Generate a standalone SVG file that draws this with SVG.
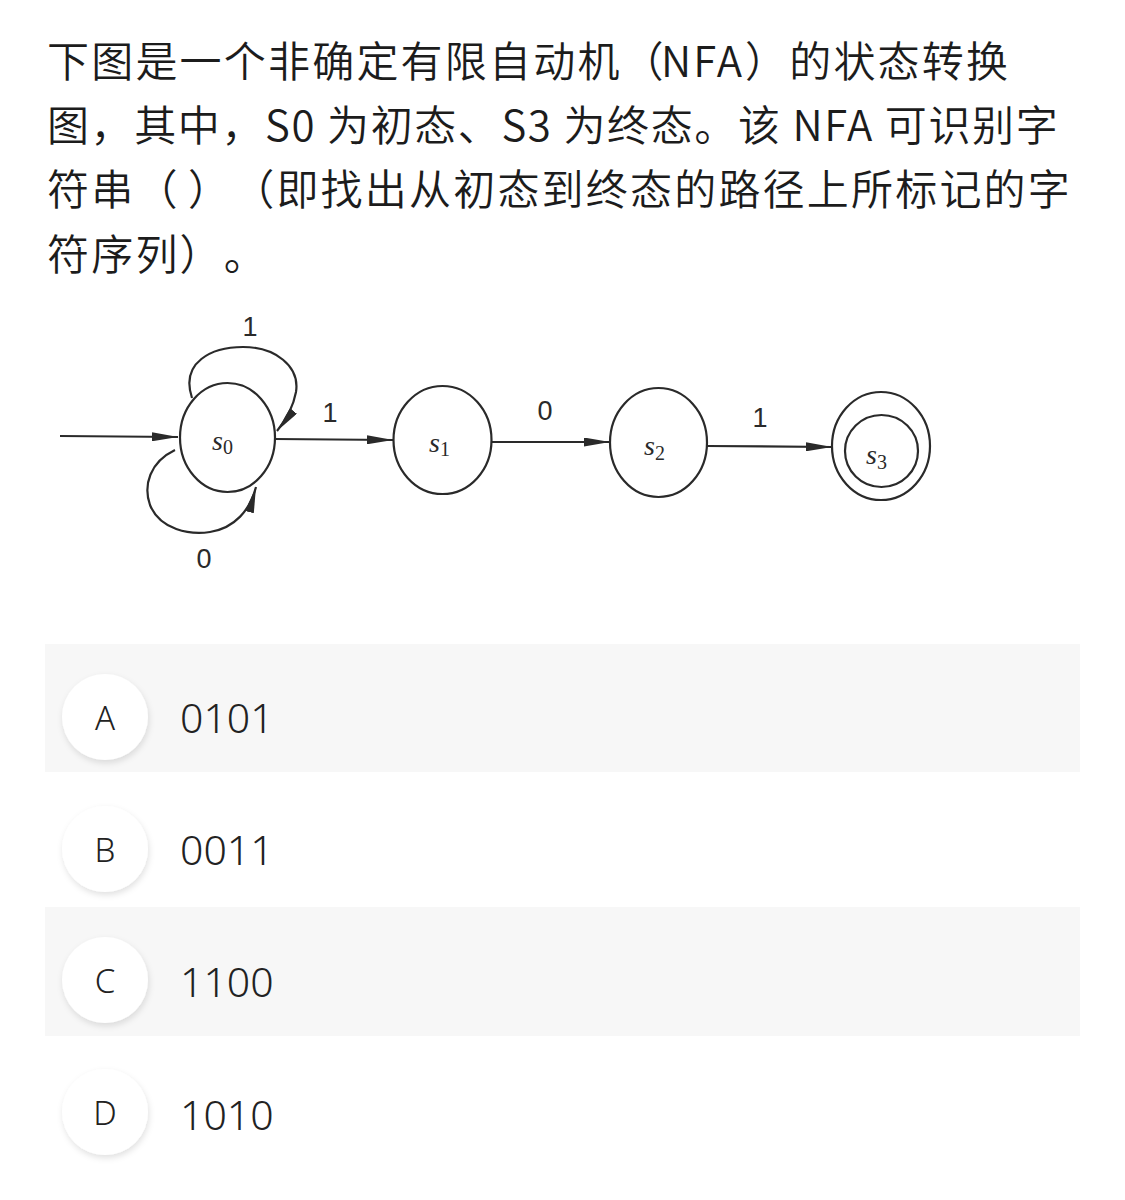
<svg xmlns="http://www.w3.org/2000/svg" width="1125" height="1200" viewBox="0 0 1125 1200">
<defs>
<style>
.title{font-family:"Noto Sans CJK SC","Noto Sans",sans-serif;font-size:42px;font-weight:350;fill:#1c1c1c;letter-spacing:2.2px;text-spacing-trim:space-all}
.edge{fill:none;stroke:#2a2a2a;stroke-width:2.2}
.node{fill:#fff;stroke:#2a2a2a;stroke-width:2.2}
.lbl{font-family:"Liberation Sans","DejaVu Sans",sans-serif;font-size:27px;fill:#2a2a2a}
.st{font-family:"Liberation Serif",serif;font-style:italic;font-size:28px;fill:#2a2a2a}
.sub{font-size:20px;font-style:normal}
.row{fill:#f7f7f7}
.badge{fill:#fff}
.letter{font-family:"Noto Sans","Liberation Sans",sans-serif;font-size:33px;font-weight:300;fill:#222;text-anchor:middle}
.opt{font-family:"Noto Sans","Liberation Sans",sans-serif;font-size:41px;font-weight:300;fill:#222}
</style>
<marker id="ah" viewBox="0 0 26 9" refX="26" refY="4.5" markerWidth="26" markerHeight="9" markerUnits="userSpaceOnUse" orient="auto">
<path d="M0,0 L26,4.5 L0,9 Z" fill="#2a2a2a"/>
</marker>
<filter id="sh" x="-30%" y="-30%" width="160%" height="160%">
<feDropShadow dx="1" dy="3" stdDeviation="3" flood-color="#000" flood-opacity="0.12"/>
</filter>
</defs>
<rect width="1125" height="1200" fill="#fff"/>
<g id="question">
<text class="title" y="77"><tspan x="47">下图是一个非确定有限自动机（</tspan><tspan x="661">NFA</tspan><tspan x="745">）的状态转换</tspan></text>
<text class="title" x="47" y="141" style="letter-spacing:1.6px">图，其中，S0 为初态、S3 为终态。该 NFA 可识别字</text>
<text class="title" y="205"><tspan x="47">符串（</tspan><tspan x="188">）（即找出从初态到终态的路径上所标记的字</tspan></text>
<text class="title" x="47" y="270">符序列）。</text>
</g>
<g id="connectors">
<path class="edge" d="M60,436 L178,437" marker-end="url(#ah)"/>
<path class="edge" d="M192,398 C180,362 212,347 243,347 C275,347 300,366 296,392 C293,408 286,420 277,431" marker-end="url(#ah)"/>
<path class="edge" d="M175,450 C150,462 143,485 150,505 C160,530 190,535 210,532 C235,528 250,510 256,487" marker-end="url(#ah)"/>
<path class="edge" d="M275,439 L393,440" marker-end="url(#ah)"/>
<path class="edge" d="M492,442 L610,442" marker-end="url(#ah)"/>
<path class="edge" d="M707,446 L832,447" marker-end="url(#ah)"/>
<text class="lbl" x="250" y="336" text-anchor="middle">1</text>
<text class="lbl" x="204" y="568" text-anchor="middle">0</text>
<text class="lbl" x="330" y="422" text-anchor="middle">1</text>
<text class="lbl" x="545" y="420" text-anchor="middle">0</text>
<text class="lbl" x="760" y="427" text-anchor="middle">1</text>
</g>
<g id="s0">
<ellipse class="node" cx="227.5" cy="437.5" rx="47.5" ry="54.5"/>
<text class="st" x="212" y="450">s<tspan class="sub" dy="4">0</tspan></text>
</g>
<g id="s1">
<ellipse class="node" cx="442.5" cy="440" rx="49" ry="54"/>
<text class="st" x="429" y="452">s<tspan class="sub" dy="4">1</tspan></text>
</g>
<g id="s2">
<ellipse class="node" cx="658.5" cy="442.5" rx="48.5" ry="54.5"/>
<text class="st" x="644" y="455">s<tspan class="sub" dy="5">2</tspan></text>
</g>
<g id="s3">
<ellipse class="node" cx="881" cy="446" rx="49" ry="54"/>
<ellipse class="node" cx="881.5" cy="451" rx="36.5" ry="36"/>
<text class="st" x="866" y="464">s<tspan class="sub" dy="5">3</tspan></text>
</g>
<g id="optA">
<rect class="row" x="45" y="644" width="1035" height="128"/>
<circle class="badge" cx="105" cy="717" r="43" filter="url(#sh)"/>
<text class="letter" x="105" y="730">A</text>
<text class="opt" x="180" y="733">0101</text>
</g>
<g id="optB">
<circle class="badge" cx="105" cy="849" r="43" filter="url(#sh)"/>
<text class="letter" x="105" y="862">B</text>
<text class="opt" x="180" y="865">0011</text>
</g>
<g id="optC">
<rect class="row" x="45" y="907" width="1035" height="129"/>
<circle class="badge" cx="105" cy="980" r="43" filter="url(#sh)"/>
<text class="letter" x="105" y="993">C</text>
<text class="opt" x="180" y="997">1100</text>
</g>
<g id="optD">
<circle class="badge" cx="105" cy="1112" r="43" filter="url(#sh)"/>
<text class="letter" x="105" y="1125">D</text>
<text class="opt" x="180" y="1130">1010</text>
</g>
</svg>
